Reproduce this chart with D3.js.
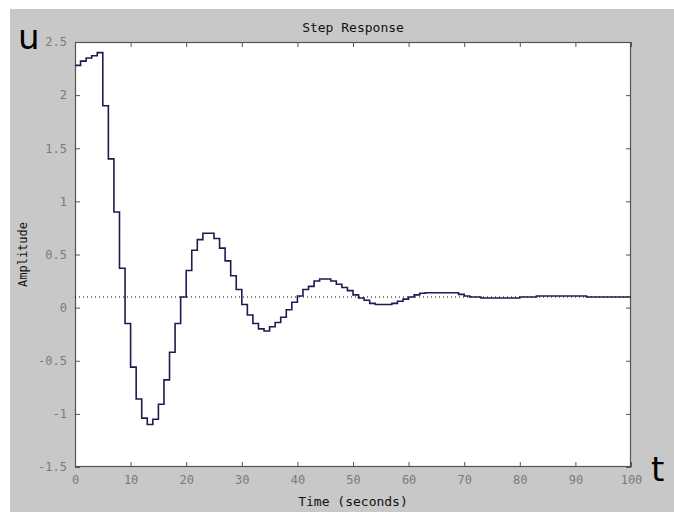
<!DOCTYPE html>
<html><head><meta charset="utf-8">
<script src="https://cdn.jsdelivr.net/npm/d3@7"></script>
<style>body{margin:0;background:#fff;} svg{display:block;}</style>
</head><body>
<script>
// Discrete step response samples (sample time 1 s), t = 0,1,2,...
const sampleTime = 1;
const values = [
  2.28, 2.32, 2.35, 2.37, 2.40, 1.90, 1.40, 0.90, 0.37, -0.15,
  -0.56, -0.86, -1.04, -1.10, -1.05, -0.91, -0.68, -0.42, -0.15, 0.10,
  0.35, 0.54, 0.64, 0.70, 0.70, 0.65, 0.56, 0.44, 0.30, 0.17,
  0.03, -0.07, -0.15, -0.20, -0.22, -0.18, -0.14, -0.09, -0.02, 0.05,
  0.11, 0.17, 0.20, 0.25, 0.27, 0.27, 0.25, 0.22, 0.19, 0.16,
  0.12, 0.09, 0.07, 0.04, 0.03, 0.03, 0.03, 0.04, 0.06, 0.08,
  0.10, 0.12, 0.135, 0.14, 0.14, 0.14, 0.14, 0.14, 0.14, 0.125,
  0.11, 0.10, 0.10, 0.09, 0.09, 0.09, 0.09, 0.09, 0.09, 0.09,
  0.10, 0.10, 0.10, 0.11, 0.11, 0.11, 0.11, 0.11, 0.11, 0.11,
  0.11, 0.11, 0.10, 0.10, 0.10, 0.10, 0.10, 0.10, 0.10, 0.10,
  0.10
];
const finalValue = 0.1;
const xTicks = [0,10,20,30,40,50,60,70,80,90,100];
const yTicks = [-1.5,-1,-0.5,0,0.5,1,1.5,2,2.5];
const xDomain = [0, 100];
const yDomain = [-1.5, 2.5];
const title = "Step Response";
const xLabel = "Time (seconds)";
const yLabel = "Amplitude";

const W = 674, H = 512;
const plot = {left: 75, right: 631, top: 42, bottom: 467};

const svg = d3.select("body").append("svg").attr("width", W).attr("height", H);
svg.append("rect").attr("x", 10).attr("y", 9).attr("width", W - 10).attr("height", H - 9).attr("fill", "#c8c8c8");

const x = d3.scaleLinear().domain(xDomain).range([plot.left, plot.right]);
const y = d3.scaleLinear().domain(yDomain).range([plot.bottom, plot.top]);

svg.append("rect").attr("x", plot.left).attr("y", plot.top)
  .attr("width", plot.right - plot.left).attr("height", plot.bottom - plot.top)
  .attr("fill", "#fff");

const tickFont = "'DejaVu Sans Mono', monospace";
const tickLen = 5;

function styleAxis(g, showLabels) {
  g.select(".domain").remove();
  g.selectAll(".tick line").attr("stroke", "#555").attr("stroke-width", 1);
  g.selectAll(".tick text").attr("fill", "#7a7a7a").attr("font-family", tickFont).attr("font-size", 12);
  if (!showLabels) g.selectAll(".tick text").remove();
}

// bottom axis
svg.append("g").attr("transform", `translate(0,${plot.bottom})`)
  .call(d3.axisBottom(x).tickValues(xTicks).tickSizeInner(-tickLen).tickSizeOuter(0).tickPadding(8).tickFormat(d3.format("")))
  .call(g => styleAxis(g, true));
// top axis
svg.append("g").attr("transform", `translate(0,${plot.top})`)
  .call(d3.axisTop(x).tickValues(xTicks).tickSizeInner(-tickLen).tickSizeOuter(0))
  .call(g => styleAxis(g, false));
// left axis
svg.append("g").attr("transform", `translate(${plot.left},0)`)
  .call(d3.axisLeft(y).tickValues(yTicks).tickSizeInner(-tickLen).tickSizeOuter(0).tickPadding(8).tickFormat(d => String(d).replace("-", "-")))
  .call(g => styleAxis(g, true));
// right axis
svg.append("g").attr("transform", `translate(${plot.right},0)`)
  .call(d3.axisRight(y).tickValues(yTicks).tickSizeInner(-tickLen).tickSizeOuter(0))
  .call(g => styleAxis(g, false));

// box
svg.append("rect").attr("x", plot.left + 0.5).attr("y", plot.top + 0.5)
  .attr("width", plot.right - plot.left - 1).attr("height", plot.bottom - plot.top - 1)
  .attr("fill", "none").attr("stroke", "#555").attr("stroke-width", 1.2);

// steady-state dotted line
svg.append("line")
  .attr("x1", x(xDomain[0])).attr("x2", x(xDomain[1]))
  .attr("y1", y(finalValue)).attr("y2", y(finalValue))
  .attr("stroke", "#000").attr("stroke-width", 1).attr("stroke-dasharray", "1,3");

// step response stairs
const pts = values.map((v, i) => [i * sampleTime, v]).filter(d => d[0] <= xDomain[1]);
const line = d3.line().x(d => x(d[0])).y(d => y(d[1])).curve(d3.curveStepAfter);
svg.append("path").datum(pts).attr("d", line)
  .attr("fill", "none").attr("stroke", "#1c1c50").attr("stroke-width", 1.6);

// titles
svg.append("text").attr("x", (plot.left + plot.right) / 2).attr("y", 32)
  .attr("text-anchor", "middle").attr("font-family", tickFont).attr("font-size", 13).attr("fill", "#111").text(title);
svg.append("text").attr("x", (plot.left + plot.right) / 2).attr("y", 506)
  .attr("text-anchor", "middle").attr("font-family", tickFont).attr("font-size", 13).attr("fill", "#111").text(xLabel);
svg.append("text").attr("transform", `translate(27,${(plot.top + plot.bottom) / 2}) rotate(-90)`)
  .attr("text-anchor", "middle").attr("font-family", tickFont).attr("font-size", 12).attr("fill", "#111").text(yLabel);

// big variable labels
svg.append("text").attr("x", 18).attr("y", 49).attr("font-family", "'DejaVu Sans', sans-serif")
  .attr("font-size", 34).attr("fill", "#000").text("u");
svg.append("text").attr("x", 651).attr("y", 481).attr("font-family", "'DejaVu Sans', sans-serif")
  .attr("font-size", 34).attr("fill", "#000").text("t");
</script>
</body></html>
